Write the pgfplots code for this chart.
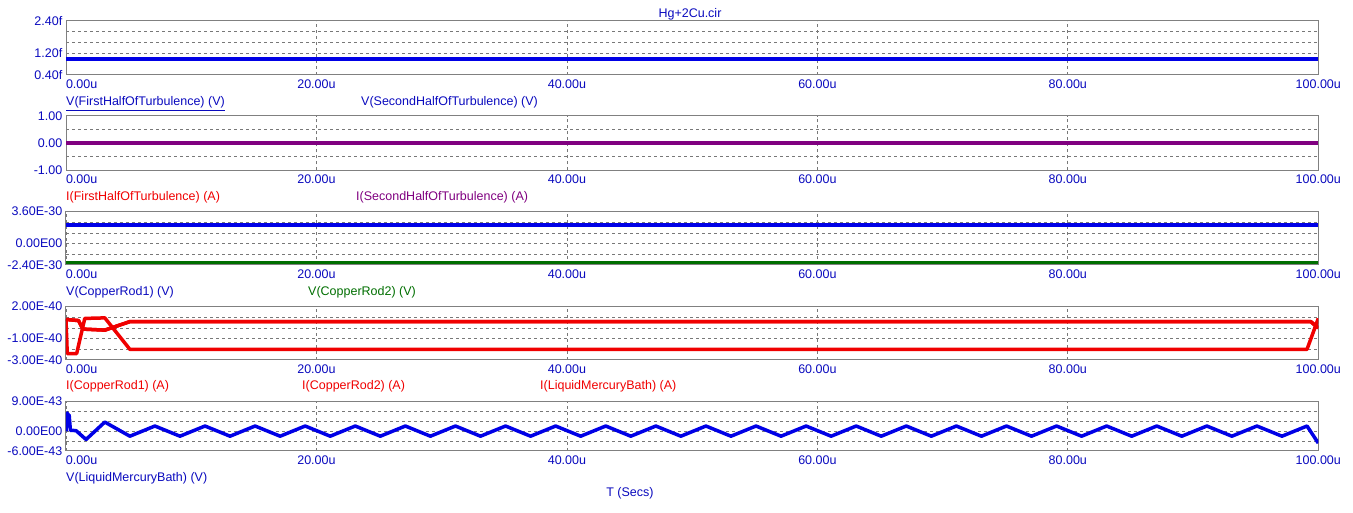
\documentclass[border=0pt]{standalone}
\usepackage{pgfplots}
\pgfplotsset{compat=1.18}
\usepackage{fontspec}
\setmainfont{Liberation Sans}

\definecolor{mcblue}{RGB}{0,0,230}
\definecolor{mctext}{RGB}{10,10,190}
\definecolor{mcred}{RGB}{240,0,0}
\definecolor{mcpurple}{RGB}{128,0,128}
\definecolor{mcgreen}{RGB}{0,110,0}
\definecolor{mcframe}{RGB}{128,128,128}
\definecolor{mcgrid}{RGB}{120,120,120}

\newcommand{\lbl}{\fontsize{12.5}{14}\selectfont}

\pgfplotsset{
  mcpanel/.style={
    scale only axis, width=1252.3pt,
    xmin=0, xmax=100,
    xtick={0,20,40,60,80,100},
    xticklabels={\makebox[0pt][l]{0.00u},20.00u,40.00u,60.00u,80.00u,100.00u},
    xmajorgrids, yminorgrids,
    major tick length=0pt, minor tick length=0pt,
    axis line style={mcframe, line width=1pt},
    grid style={mcgrid, line width=0.7pt, dash pattern=on 3pt off 3pt},
    minor grid style={mcgrid, line width=0.7pt, dash pattern=on 3pt off 3pt},
    tick label style={font=\lbl, text=mctext},
    xticklabel style={anchor=base, inner sep=0pt, yshift=-13.5pt},
    yticklabel style={anchor=east, inner sep=0pt, xshift=-3.5pt},
    every axis plot/.append style={line width=3.5pt, line join=round},
  }
}

\begin{document}
\begin{tikzpicture}
\useasboundingbox (0pt,0pt) rectangle (1353pt,513pt);

% panel 1: values in f (1e-15)
\begin{axis}[mcpanel, at={(66pt,438pt)}, anchor=south west, height=54pt,
  ymin=0.4, ymax=2.4, ytick={0.4,1.2,2.4},
  yticklabels={0.40f,1.20f,2.40f}, minor ytick={1.2,1.6,2.0}]
  \addplot[mcblue] coordinates {(0,1.0) (100,1.0)};
  \addplot[mcblue] coordinates {(0,1.0) (100,1.0)};
\end{axis}

% panel 2
\begin{axis}[mcpanel, at={(66pt,342.7pt)}, anchor=south west, height=54.3pt,
  ymin=-1, ymax=1, ytick={-1,0,1},
  yticklabels={-1.00,0.00,1.00}, minor ytick={-0.5,0.5}]
  \addplot[mcred] coordinates {(0,0) (100,0)};
  \addplot[mcpurple] coordinates {(0,0) (100,0)};
\end{axis}

% panel 3: values in 1e-30
\begin{axis}[mcpanel, at={(66pt,248pt)}, anchor=south west, height=53.3pt,
  ymin=-2.4, ymax=3.6, ytick={-2.4,0,3.6},
  yticklabels={-2.40E-30,0.00E00,3.60E-30}, minor ytick={-1.2,0,1.2,2.4}]
  \addplot[mcblue] coordinates {(0,2.1) (100,2.1)};
  \addplot[mcgreen] coordinates {(0,-2.1) (100,-2.1)};
\end{axis}

% panel 4: values in 1e-40
\begin{axis}[mcpanel, at={(66pt,153pt)}, anchor=south west, height=53.3pt,
  ymin=-3, ymax=2, ytick={-3,-1,2},
  yticklabels={-3.00E-40,-1.00E-40,2.00E-40}, minor ytick={-2,-1,0,1}]
  \addplot[mcred] coordinates {(0,0.8) (0.1,-2.4) (0.85,-2.4) (1.5,0.9) (3.1,0.95) (5.1,-2.0) (99.1,-2.0) (100,0.9)};
  \addplot[mcred] coordinates {(0,0.8) (1.0,0.7) (1.35,-0.1) (3.1,-0.2) (5.1,0.6) (99.4,0.6) (100,0.0)};
  \addplot[mcred] coordinates {(0,0.8) (1.0,0.7) (1.35,-0.1) (3.1,-0.2) (5.1,0.6) (99.4,0.6) (100,0.0)};
\end{axis}

% panel 5: values in 1e-43
\begin{axis}[mcpanel, at={(66pt,62pt)}, anchor=south west, height=49.3pt,
  ymin=-6, ymax=9, ytick={-6,0,9},
  yticklabels={-6.00E-43,0.00E00,9.00E-43}, minor ytick={-3,0,3,6}]
  \addplot[mcblue] coordinates {
    (0,0) (0.1,5.6) (0.18,3.8) (0.25,5.0) (0.35,0.3) (0.8,0.2) (1.6,-2.5) (3.1,2.8)
    (5.1,-1.5) (7.1,1.6) (9.1,-1.5) (11.1,1.6) (13.1,-1.5) (15.1,1.6) (17.1,-1.5) (19.1,1.6)
    (21.1,-1.5) (23.1,1.6) (25.1,-1.5) (27.1,1.6) (29.1,-1.5) (31.1,1.6) (33.1,-1.5) (35.1,1.6)
    (37.1,-1.5) (39.1,1.6) (41.1,-1.5) (43.1,1.6) (45.1,-1.5) (47.1,1.6) (49.1,-1.5) (51.1,1.6)
    (53.1,-1.5) (55.1,1.6) (57.1,-1.5) (59.1,1.6) (61.1,-1.5) (63.1,1.6) (65.1,-1.5) (67.1,1.6)
    (69.1,-1.5) (71.1,1.6) (73.1,-1.5) (75.1,1.6) (77.1,-1.5) (79.1,1.6) (81.1,-1.5) (83.1,1.6)
    (85.1,-1.5) (87.1,1.6) (89.1,-1.5) (91.1,1.6) (93.1,-1.5) (95.1,1.6) (97.1,-1.5) (99.1,1.6)
    (100,-3.6)};
\end{axis}

% title and series labels
\begin{scope}[every node/.style={inner sep=0pt, font=\lbl}]
  \node[anchor=base, text=mctext] at (690pt,495pt) {Hg+2Cu.cir};
  \node[anchor=base west, text=mctext] at (66pt,407pt) {\underline{V(FirstHalfOfTurbulence) (V)}};
  \node[anchor=base west, text=mctext] at (361pt,407pt) {V(SecondHalfOfTurbulence) (V)};
  \node[anchor=base west, text=mcred] at (66pt,312.3pt) {I(FirstHalfOfTurbulence) (A)};
  \node[anchor=base west, text=mcpurple] at (356pt,312.3pt) {I(SecondHalfOfTurbulence) (A)};
  \node[anchor=base west, text=mctext] at (66pt,217.3pt) {V(CopperRod1) (V)};
  \node[anchor=base west, text=mcgreen] at (308pt,217.3pt) {V(CopperRod2) (V)};
  \node[anchor=base west, text=mcred] at (66pt,123pt) {I(CopperRod1) (A)};
  \node[anchor=base west, text=mcred] at (302pt,123pt) {I(CopperRod2) (A)};
  \node[anchor=base west, text=mcred] at (540pt,123pt) {I(LiquidMercuryBath) (A)};
  \node[anchor=base west, text=mctext] at (66pt,31.3pt) {V(LiquidMercuryBath) (V)};
  \node[anchor=base, text=mctext] at (630pt,16.3pt) {T (Secs)};
\end{scope}
\end{tikzpicture}
\end{document}
